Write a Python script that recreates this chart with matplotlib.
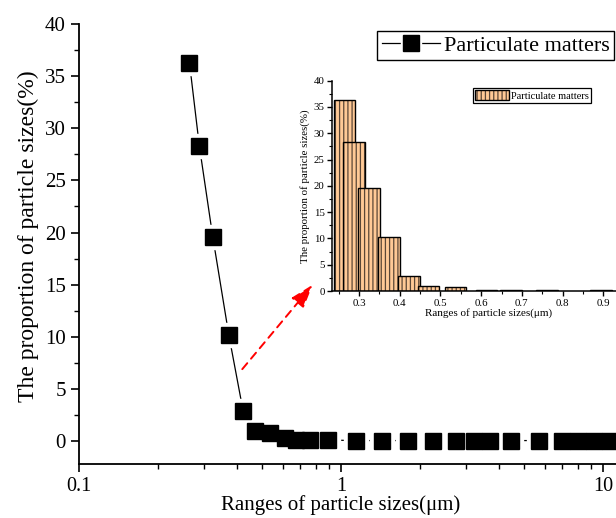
import numpy as np
import matplotlib
matplotlib.use("Agg")
import matplotlib.pyplot as plt
from matplotlib.lines import Line2D
from matplotlib.patches import Patch
from matplotlib.legend_handler import HandlerTuple
from matplotlib.ticker import MultipleLocator, LogLocator, NullFormatter, FixedLocator, FixedFormatter

plt.rcParams['font.family'] = ['Liberation Serif', 'DejaVu Serif']
plt.rcParams['hatch.linewidth'] = 0.9

# particle size (um) and proportion (%)
sizes = [0.264, 0.288, 0.324, 0.373, 0.423, 0.471, 0.537, 0.613, 0.673, 0.762,
         0.894, 1.14, 1.44, 1.80, 2.24, 2.75, 3.23, 3.71, 4.47, 5.71,
         6.98, 8.01, 9.22, 10.6]
props = [36.3, 28.3, 19.6, 10.2, 2.9, 1.0, 0.8, 0.25, 0.1, 0.1,
         0.1, 0.05, 0.05, 0.05, 0.05, 0.05, 0.05, 0.05, 0.05, 0.05,
         0.05, 0.05, 0.05, 0.05]
series_name = "Particulate matters"
xlab = "Ranges of particle sizes(\u03bcm)"
ylab = "The proportion of particle sizes(%)"

bar_face = '#FFC996'
hatch_col = '#5a4636'

fig = plt.figure(figsize=(6.16, 5.18), dpi=100)

# main axes (runs past the right edge of the figure like the original crop)
ax = fig.add_axes([0.1282, 0.1042, 0.9788, 0.8494])
ax.plot(sizes, props, '-', color='black', lw=0.9, zorder=2)
ax.plot(sizes, props, 's', ls='none', ms=17.5, mfc='white', mec='white', zorder=2.1)
ax.plot(sizes, props, 's', ls='none', ms=11, mfc='black', mec='black', zorder=2.2)

ax.set_xscale('log')
ax.set_xlim(0.1, 20)
ax.set_ylim(-2.2, 40)
ax.xaxis.set_major_locator(FixedLocator([0.1, 1, 10]))
ax.xaxis.set_major_formatter(FixedFormatter(['0.1', '1', '10']))
ax.xaxis.set_minor_locator(LogLocator(base=10, subs=np.arange(2, 10)))
ax.xaxis.set_minor_formatter(NullFormatter())
ax.yaxis.set_major_locator(MultipleLocator(5))
ax.yaxis.set_minor_locator(MultipleLocator(2.5))
ax.spines['top'].set_visible(False)
ax.spines['right'].set_visible(False)
for s in ('left', 'bottom'):
    ax.spines[s].set_linewidth(1.3)
ax.tick_params(which='major', direction='out', length=6, width=1.2, labelsize=15)
ax.tick_params(axis='x', which='major', pad=3, labelsize=14.5)
ax.tick_params(which='minor', direction='out', length=3.5, width=1.0)
ax.set_xlabel(xlab, fontsize=15)
ax.set_ylabel(ylab, fontsize=17)
ax.xaxis.set_label_coords((341 - 79) / 603, -0.0925)
ax.xaxis.label.set_va('center')
ax.yaxis.set_label_coords(-0.0846, 0.518)
ax.yaxis.label.set_va('center')

h_line = Line2D([], [], color='black', lw=0.9)
h_gap = Line2D([], [], marker='s', ls='none', ms=14, mfc='white', mec='white')
h_mark = Line2D([], [], marker='s', ls='none', ms=11, mfc='black', mec='black')
leg = ax.legend([(h_line, h_gap, h_mark)], [series_name],
                handler_map={tuple: HandlerTuple(ndivide=1)},
                loc='upper left', bbox_to_anchor=(0.495, 0.985), fontsize=16,
                fancybox=False, framealpha=1, edgecolor='black',
                handlelength=2.6, handletextpad=0.2, borderpad=0.2,
                borderaxespad=0)
leg.get_frame().set_linewidth(1.0)

ax.annotate('', xy=(0.78, 15.0), xytext=(0.42, 6.9),
            arrowprops=dict(arrowstyle='-|>,head_length=0.9,head_width=0.3',
                            color='red', lw=1.4, linestyle=(0, (4, 3)),
                            mutation_scale=16, shrinkA=0, shrinkB=0))

# inset histogram
ins = fig.add_axes([0.5395, 0.4382, 0.506, 0.406])
for i, (xv, yv) in enumerate(zip(sizes, props)):
    ins.bar(xv, yv, width=0.053, color=bar_face, edgecolor=hatch_col, hatch='||||',
            lw=0, zorder=2 + i * 0.01)
    ins.bar(xv, yv, width=0.053, facecolor='none', edgecolor='black',
            lw=1.0, zorder=2 + i * 0.01 + 0.005)
ins.set_xlim(0.2344, 1.0)
ins.set_ylim(0, 40)
ins.xaxis.set_major_locator(FixedLocator([0.3, 0.4, 0.5, 0.6, 0.7, 0.8, 0.9]))
ins.xaxis.set_minor_locator(MultipleLocator(0.05))
ins.yaxis.set_major_locator(MultipleLocator(5))
ins.yaxis.set_minor_locator(MultipleLocator(2.5))
ins.spines['top'].set_visible(False)
ins.spines['right'].set_visible(False)
for s in ('left', 'bottom'):
    ins.spines[s].set_linewidth(1.1)
ins.tick_params(which='major', direction='out', length=3.5, width=1.0, labelsize=7.8, pad=2)
ins.tick_params(which='minor', direction='out', length=2, width=0.8)
ins.set_xlabel(xlab, fontsize=8, labelpad=0)
ins.set_ylabel(ylab, fontsize=7.8, labelpad=3)

p_fill = Patch(facecolor=bar_face, edgecolor=hatch_col, hatch='||||', lw=0)
p_edge = Patch(facecolor='none', edgecolor='black', lw=1.0)
leg2 = ins.legend([(p_fill, p_edge)], [series_name],
                  handler_map={tuple: HandlerTuple(ndivide=1)},
                  loc='upper left', bbox_to_anchor=(0.452, 0.965), fontsize=7.5,
                  fancybox=False, framealpha=1, edgecolor='black',
                  handlelength=3.2, handleheight=1.1, handletextpad=0.2,
                  borderpad=0.2, borderaxespad=0)
leg2.get_frame().set_linewidth(0.9)

fig.savefig('out.png', dpi=100)
